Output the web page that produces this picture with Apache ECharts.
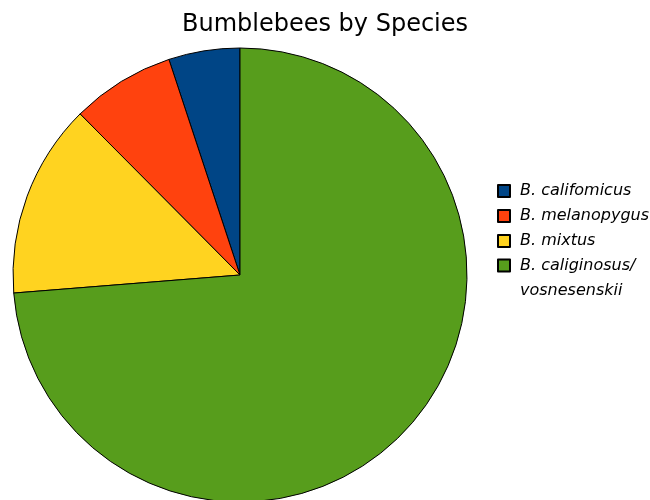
<!DOCTYPE html>
<html>
<head>
<meta charset="utf-8">
<script src="https://cdn.jsdelivr.net/npm/echarts@6/dist/echarts.min.js"></script>
<style>html,body{margin:0;padding:0;background:#fff}#c{width:650px;height:500px}</style>
</head>
<body>
<div id="c"></div>
<script>
const species = ['B. califomicus', 'B. melanopygus', 'B. mixtus', 'B. caliginosus/\nvosnesenskii'];
const counts = [11, 16, 30, 160];
const colors = ['#004586', '#ff420e', '#ffd320', '#579d1c'];

const chart = echarts.init(document.getElementById('c'));
const font = '"DejaVu Sans", "Liberation Sans", sans-serif';
const legendBase = {
  orient: 'vertical',
  left: 497,
  padding: 0,
  itemWidth: 12,
  itemHeight: 12,
  itemGap: 9,
  icon: 'rect',
  selectedMode: false
};
const legendText = { fontFamily: font, fontSize: 16, fontStyle: 'italic', color: '#000', padding: [0, 0, 0, 5] };
chart.setOption({
  animation: false,
  title: {
    text: 'Bumblebees by Species',
    left: 'center',
    top: 8,
    textStyle: { fontFamily: font, fontSize: 24, fontWeight: 'normal', color: '#000' }
  },
  legend: [
    Object.assign({}, legendBase, {
      top: 183,
      textStyle: Object.assign({ lineHeight: 16 }, legendText),
      data: species.slice(0, 3)
    }),
    Object.assign({}, legendBase, {
      top: 228,
      textStyle: Object.assign({ lineHeight: 25 }, legendText),
      formatter: n => '\n' + n,
      data: species.slice(3)
    })
  ],
  series: [{
    type: 'pie',
    center: [240, 275],
    radius: 227,
    startAngle: 90,
    clockwise: false,
    silent: true,
    label: { show: false },
    labelLine: { show: false },
    itemStyle: { borderColor: '#000', borderWidth: 1 },
    data: species.map((s, i) => ({ name: s, value: counts[i], itemStyle: { color: colors[i] } }))
  }]
});
</script>
</body>
</html>
